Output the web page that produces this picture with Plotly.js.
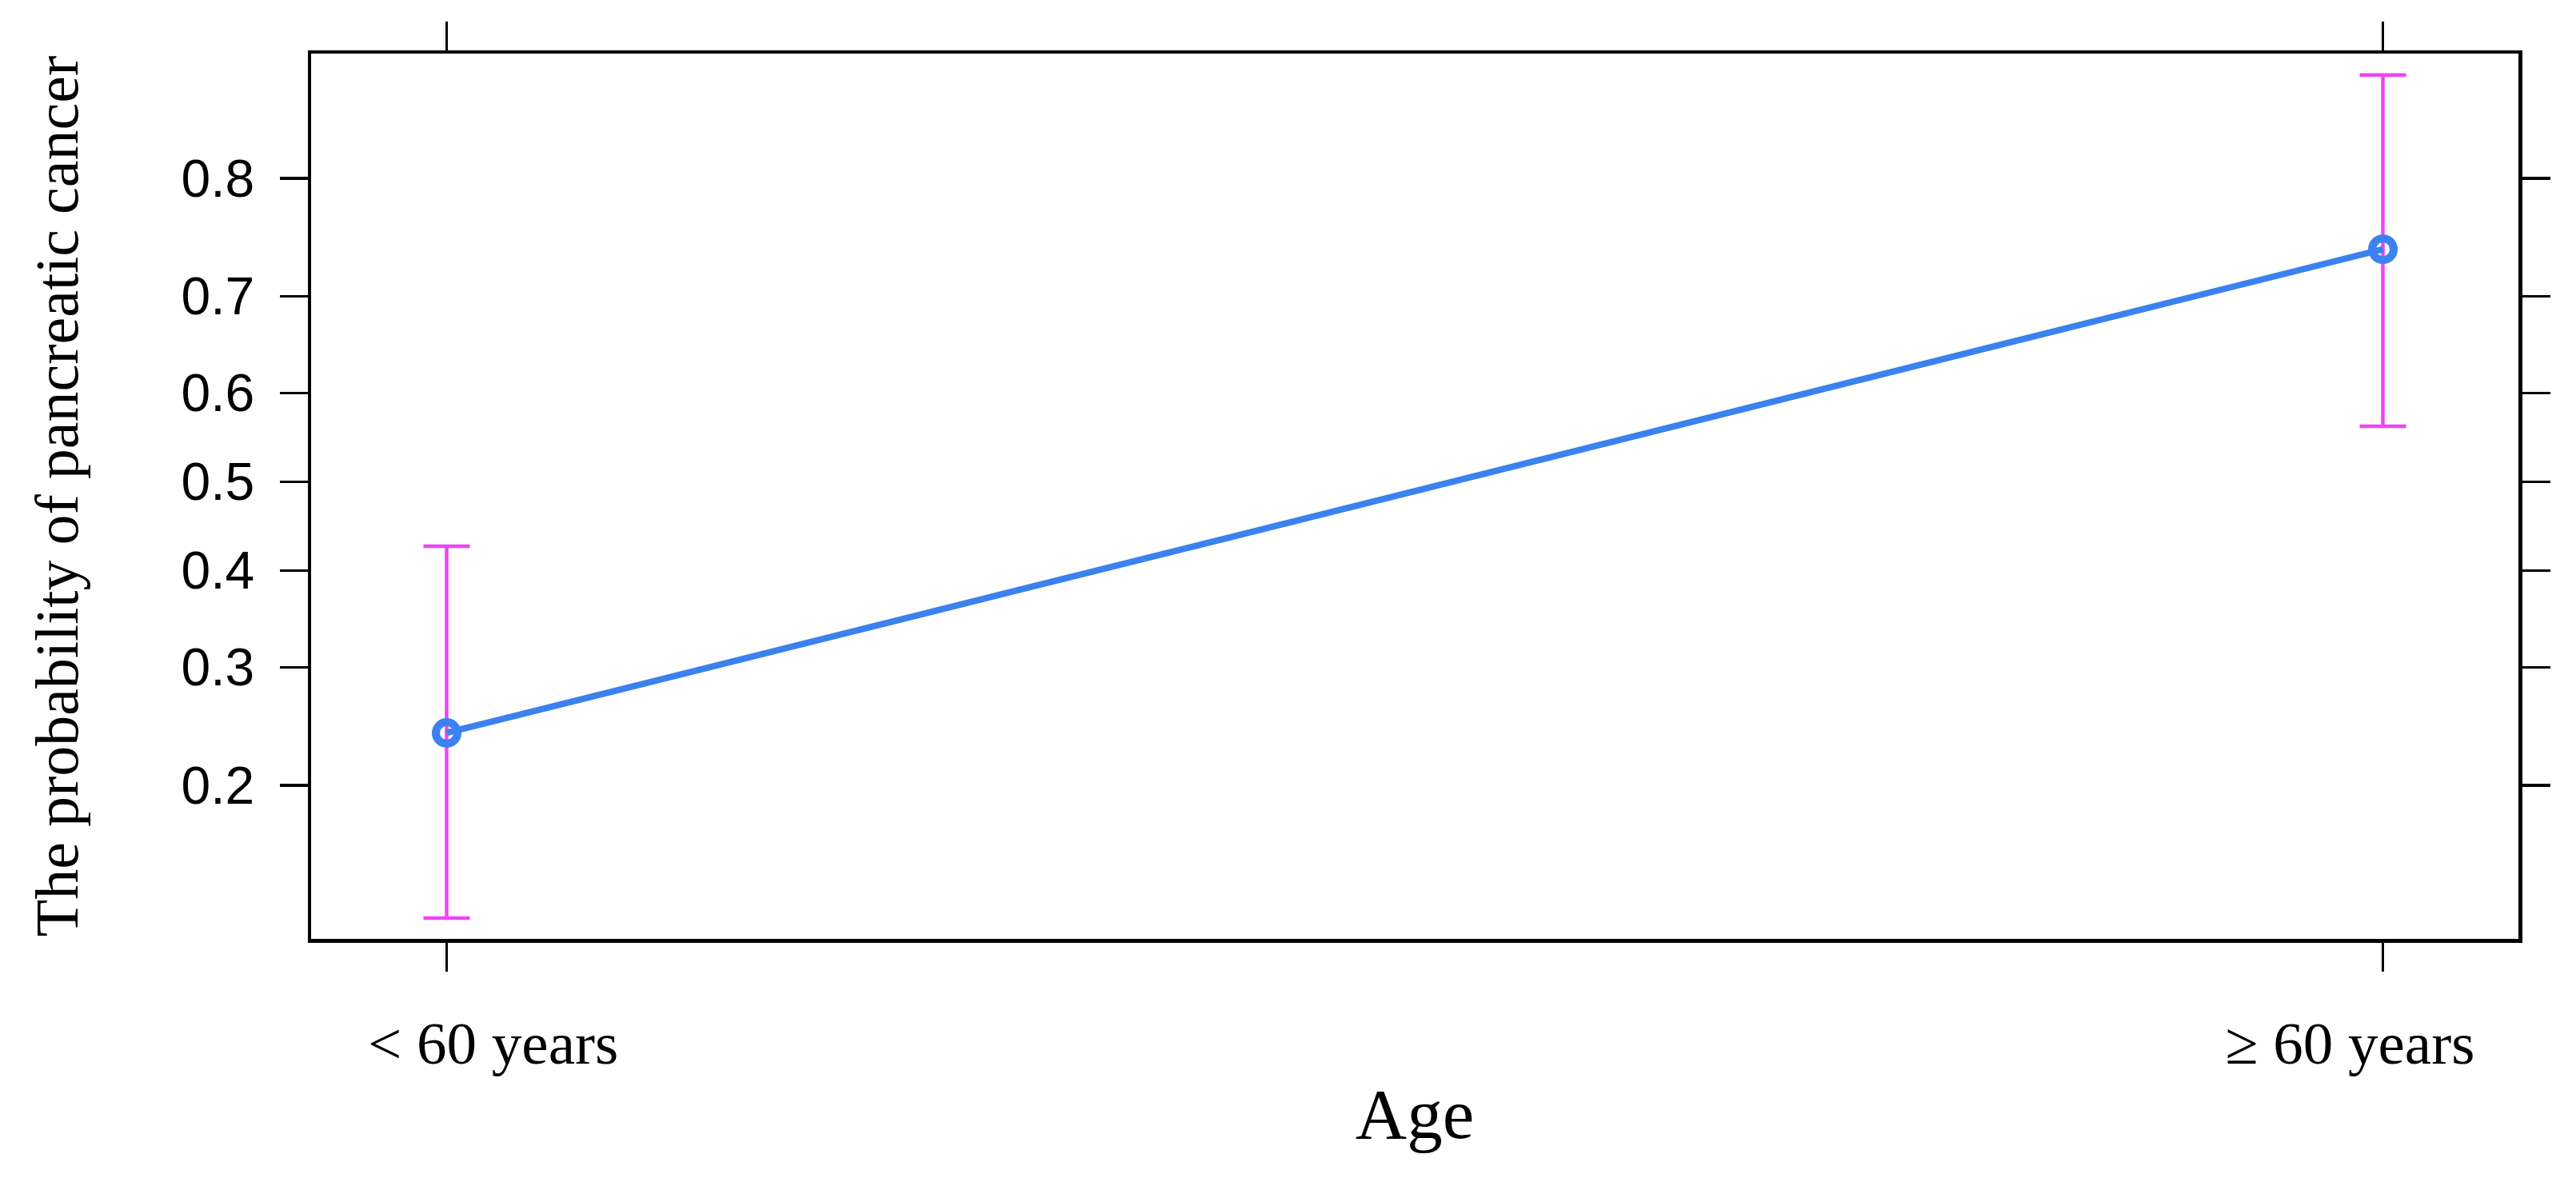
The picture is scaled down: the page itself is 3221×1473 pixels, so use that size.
<!DOCTYPE html>
<html>
<head>
<meta charset="utf-8">
<script src="https://cdn.plot.ly/plotly-3.0.1.min.js"></script>
<style>html,body{margin:0;padding:0;background:#fff;}</style>
</head>
<body>
<div id="chart" style="width:3221px;height:1473px;"></div>
<script>
// ---- data ----
const categories = ["< 60 years", "\u2265 60 years"];
const categoryIndex = [0, 1];
const probability = [0.241, 0.743];
const lowerCI = [0.120, 0.563];
const upperCI = [0.427, 0.865];
const yTickValues = [0.2, 0.3, 0.4, 0.5, 0.6, 0.7, 0.8];
const yTickLabels = ["0.2", "0.3", "0.4", "0.5", "0.6", "0.7", "0.8"];
const yAxisLimits = [0.1103, 0.876];
const xAxisTitle = "Age";
const yAxisTitle = "The probability of pancreatic cancer";

// the reference nudges its category labels slightly inwards
const labelNudge = [0.024, -0.017];

// logit scale (the effects plot uses a logit-transformed probability axis)
const logit = p => Math.log(p / (1 - p));
const yLogit = probability.map(logit);
const errPlus = upperCI.map((u, i) => logit(u) - yLogit[i]);
const errMinus = lowerCI.map((l, i) => yLogit[i] - logit(l));

const blue = "#3b82f0";
const magenta = "#ee44f5";
const serif = "Liberation Serif, Times New Roman, serif";

const trace = {
  type: "scatter",
  mode: "lines+markers",
  x: categoryIndex,
  y: yLogit,
  line: {color: blue, width: 8},
  marker: {symbol: "circle-open", size: 27, color: blue, line: {width: 10, color: blue}},
  error_y: {
    type: "data", symmetric: false,
    array: errPlus, arrayminus: errMinus,
    color: magenta, thickness: 4.5, width: 29
  },
  hoverinfo: "skip",
  showlegend: false
};

// invisible helper trace so the label axis is created
const labelTrace = {
  type: "scatter", mode: "markers",
  x: categoryIndex, y: [null, null],
  xaxis: "x2", yaxis: "y",
  hoverinfo: "skip", showlegend: false
};

const xRange = [-0.07, 1.07];

const layout = {
  width: 3221, height: 1473,
  margin: {l: 389, r: 72, t: 67, b: 299},
  paper_bgcolor: "#ffffff",
  plot_bgcolor: "#ffffff",
  showlegend: false,
  xaxis: {
    range: xRange,
    tickvals: categoryIndex,
    ticktext: categories,
    showticklabels: false,
    showgrid: false, zeroline: false,
    showline: true, linecolor: "#000", linewidth: 4.5, mirror: "ticks",
    ticks: "outside", ticklen: 36, tickwidth: 3.5, tickcolor: "#000",
    automargin: false
  },
  xaxis2: {
    overlaying: "x", anchor: "y", side: "bottom",
    range: xRange,
    tickvals: categoryIndex.map((v, i) => v + labelNudge[i]),
    ticktext: categories,
    showgrid: false, zeroline: false, showline: false, ticks: "",
    tickfont: {family: serif, size: 75, color: "#000"},
    ticklabelstandoff: 80,
    automargin: false,
    title: {text: xAxisTitle, font: {family: serif, size: 89, color: "#000"}, standoff: 15}
  },
  yaxis: {
    range: yAxisLimits.map(logit),
    tickvals: yTickValues.map(logit),
    ticktext: yTickLabels,
    showgrid: false, zeroline: false,
    showline: true, linecolor: "#000", linewidth: 4.5, mirror: "ticks",
    ticks: "outside", ticklen: 35, tickwidth: 3.5, tickcolor: "#000",
    tickfont: {family: "Liberation Sans, Arial, Helvetica, sans-serif", size: 66, color: "#000"},
    ticklabelstandoff: 18,
    automargin: false,
    title: {text: yAxisTitle, font: {family: serif, size: 76, color: "#000"}, standoff: 105}
  }
};

Plotly.newPlot("chart", [trace, labelTrace], layout, {displayModeBar: false, staticPlot: true});
</script>
</body>
</html>
